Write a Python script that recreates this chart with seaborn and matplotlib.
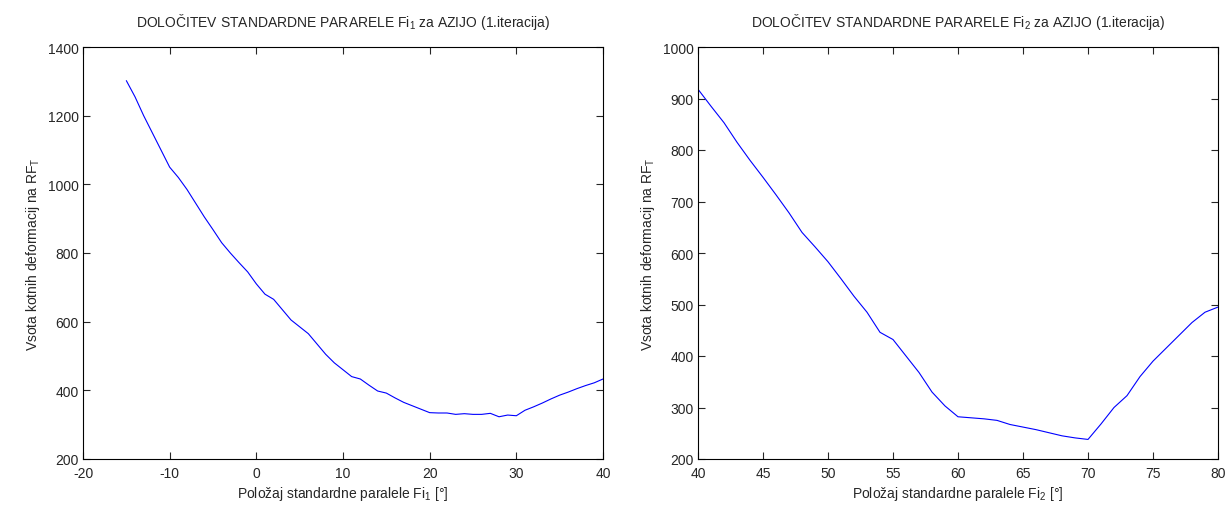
import matplotlib
matplotlib.use("Agg")
import matplotlib.pyplot as plt
import seaborn as sns
import numpy as np
import pandas as pd

# Left plot data: Fi1 position vs. sum of angular deformations
fi1_x = list(range(-15, 41))
fi1_y = [1302, 1255, 1200, 1150, 1100, 1050, 1020, 985, 945, 905,
         868, 830, 800, 772, 745, 710, 680, 665, 635, 605,
         585, 565, 535, 505, 480, 460, 440, 433, 415, 398,
         392, 378, 365, 355, 345, 335, 334, 334, 330, 332,
         330, 330, 333, 323, 328, 326, 342, 352, 363, 375,
         386, 395, 405, 414, 422, 433]

# Right plot data: Fi2 position vs. sum of angular deformations
fi2_x = list(range(40, 81))
fi2_y = [918, 885, 853, 815, 780, 747, 713, 678, 640, 612,
         583, 550, 516, 485, 446, 432, 400, 368, 330, 303,
         282, 280, 278, 275, 267, 262, 257, 251, 245, 241,
         238, 268, 300, 323, 360, 390, 415, 440, 465, 485, 495]

titles = ["DOLOČITEV STANDARDNE PARARELE Fi$_1$ za AZIJO (1.iteracija)",
          "DOLOČITEV STANDARDNE PARARELE Fi$_2$ za AZIJO (1.iteracija)"]
xlabels = ["Položaj standardne paralele Fi$_1$ [°]",
           "Položaj standardne paralele Fi$_2$ [°]"]
ylabel = "Vsota kotnih deformacij na RF$_T$"

sns.set_style("ticks")
plt.rcParams['font.family'] = ['Liberation Sans', 'DejaVu Sans']
plt.rcParams['mathtext.default'] = 'regular'
plt.rcParams['axes.unicode_minus'] = False

fig = plt.figure(figsize=(12.28, 5.06), dpi=100)
ax1 = fig.add_axes([83/1228, 1-460/506, 520/1228, 412/506])
ax2 = fig.add_axes([698/1228, 1-460/506, 520/1228, 412/506])

df1 = pd.DataFrame({"x": fi1_x, "y": fi1_y})
df2 = pd.DataFrame({"x": fi2_x, "y": fi2_y})

sns.lineplot(data=df1, x="x", y="y", ax=ax1, color=(0, 0, 1), linewidth=0.8)
sns.lineplot(data=df2, x="x", y="y", ax=ax2, color=(0, 0, 1), linewidth=0.8)

ax1.set_xlim(-20, 40)
ax1.set_ylim(200, 1400)
ax1.set_xticks(np.arange(-20, 41, 10))
ax1.set_yticks(np.arange(200, 1401, 200))

ax2.set_xlim(40, 80)
ax2.set_ylim(200, 1000)
ax2.set_xticks(np.arange(40, 81, 5))
ax2.set_yticks(np.arange(200, 1001, 100))

for ax, t, xl in zip([ax1, ax2], titles, xlabels):
    ax.set_title(t, fontsize=10, pad=15)
    ax.set_xlabel(xl, fontsize=10, labelpad=3)
    ax.set_ylabel(ylabel, fontsize=10, labelpad=4)
    ax.tick_params(direction='in', top=True, right=True, labelsize=10,
                   length=5, width=0.8)
    ax.tick_params(axis='x', pad=5)
    ax.tick_params(axis='y', pad=3)
    for s in ax.spines.values():
        s.set_linewidth(0.8)
        s.set_color('black')
        s.set_visible(True)

fig.savefig("out.png", dpi=100, facecolor='white')
